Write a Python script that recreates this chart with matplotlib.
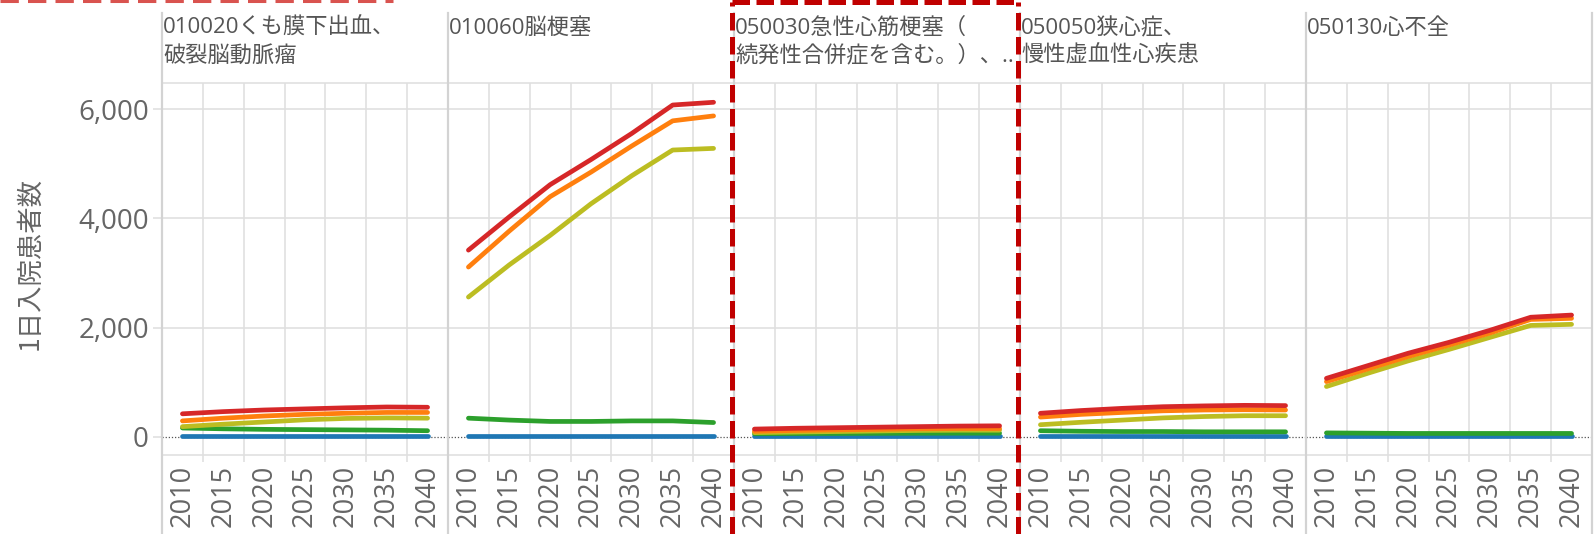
import matplotlib
matplotlib.use('Agg')
import matplotlib.pyplot as plt
from matplotlib.lines import Line2D

plt.rcParams['font.family'] = ['Noto Sans CJK JP', 'DejaVu Sans']

years = [2010, 2015, 2020, 2025, 2030, 2035, 2040]
titles = [['010020くも膜下出血、', '破裂脳動脈瘤'],
          ['010060脳梗塞'],
          ['050030急性心筋梗塞（', '続発性合併症を含む。）、..'],
          ['050050狭心症、', '慢性虚血性心疾患'],
          ['050130心不全']]
yticks = [0, 2000, 4000, 6000]
ylabel = '1日入院患者数'

# 系列ごとの値 (パネル順)
red = [[420, 460, 490, 510, 530, 545, 540],
       [3420, 4030, 4620, 5080, 5560, 6080, 6130],
       [140, 155, 165, 175, 185, 195, 200],
       [430, 480, 520, 550, 565, 575, 570],
       [1070, 1300, 1530, 1730, 1950, 2190, 2230]]
orange = [[290, 340, 380, 410, 430, 445, 445],
          [3110, 3770, 4400, 4850, 5330, 5790, 5880],
          [100, 115, 125, 135, 145, 150, 150],
          [360, 410, 445, 475, 490, 495, 490],
          [1010, 1240, 1470, 1680, 1900, 2150, 2170]]
olive = [[185, 230, 270, 310, 335, 345, 340],
         [2560, 3150, 3690, 4270, 4785, 5255, 5285],
         [75, 85, 95, 105, 115, 120, 120],
         [220, 265, 305, 345, 370, 385, 385],
         [920, 1160, 1390, 1600, 1820, 2040, 2060]]
green = [[160, 145, 135, 130, 125, 120, 110],
         [340, 305, 280, 280, 290, 290, 260],
         [55, 58, 60, 62, 64, 65, 65],
         [110, 100, 95, 95, 90, 90, 90],
         [70, 65, 60, 60, 60, 60, 60]]
blue = [[10, 10, 10, 10, 10, 10, 10],
        [10, 10, 10, 10, 10, 10, 10],
        [10, 10, 10, 10, 10, 10, 10],
        [10, 10, 10, 10, 10, 10, 10],
        [15, 15, 15, 15, 15, 15, 15]]

series = [(blue, '#1f77b4'), (green, '#2ca02c'), (olive, '#bcbd22'),
          (orange, '#ff7f0e'), (red, '#d62728')]

W, H = 1595, 534
fig = plt.figure(figsize=(W / 100, H / 100), dpi=100)

x0 = 162        # 左端 (px)
pw = 286        # パネル幅 (px)
top_px, bot_px = 83.3, 455
grid_c = '#e0e0e0'
sep_c = '#d3d3d3'
txt_c = '#666666'
num_font = ['Open Sans', 'DejaVu Sans']
head_font = ['Open Sans', 'Noto Sans CJK JP']

pos = list(range(len(years)))
for i in range(5):
    ax = fig.add_axes([(x0 + i * pw) / W, (H - bot_px) / H, pw / W, (bot_px - top_px) / H])
    ax.set_xlim(-0.5, 6.5)
    ax.set_ylim(-335, 6478)
    for v in yticks[1:]:
        ax.axhline(v, color=grid_c, lw=1.2, zorder=0)
    for xv in [0.5, 1.5, 2.5, 3.5, 4.5, 5.5]:
        ax.axvline(xv, color=grid_c, lw=1.2, zorder=0)
    ax.axhline(0, color='#555555', lw=0.9, linestyle=(0, (1, 1.5)), zorder=1)
    for data, c in series:
        ax.plot(pos, data[i], color=c, lw=3.4, solid_capstyle='round',
                solid_joinstyle='round', zorder=3)
    for s in ['left', 'right']:
        ax.spines[s].set_visible(False)
    for s in ['top', 'bottom']:
        ax.spines[s].set_color(grid_c)
        ax.spines[s].set_linewidth(1.2)
    ax.set_xticks(pos)
    ax.set_xticklabels([str(y) for y in years], rotation=90, fontsize=19.5,
                       color=txt_c, family=num_font)
    ax.set_xticks([0.5, 1.5, 2.5, 3.5, 4.5, 5.5], minor=True)
    ax.tick_params(axis='x', which='major', length=0, pad=7)
    ax.tick_params(axis='x', which='minor', length=5, color=grid_c, width=1.2)
    ax.set_yticks(yticks)
    if i == 0:
        ax.set_yticklabels([f'{v:,}' for v in yticks], fontsize=20, color=txt_c,
                           family=num_font)
        ax.tick_params(axis='y', length=6.5, color=grid_c, width=1.2, pad=3)
    else:
        ax.set_yticklabels([])
        ax.tick_params(axis='y', length=0)
    for k, line in enumerate(titles[i]):
        fig.text((x0 + i * pw + 1) / W, 1 - (34 + 27.5 * k) / H, line, fontsize=16,
                 color='#555555', va='baseline', ha='left', family=head_font)

fig.text(30 / W, 1 - 263 / H, ylabel, rotation=90, fontsize=19, color=txt_c,
         ha='center', va='center')

# パネル区切り線
for i in range(6):
    xf = (x0 + i * pw) / W
    fig.add_artist(Line2D([xf, xf], [0, 1 - 13 / H], color=sep_c, lw=1.6,
                          transform=fig.transFigure))

# 赤い破線の枠
rc = '#c00000'
xl, xr = 731.7 / W, 1018 / W
yt = 1 - 1.7 / H
for xs, ys in [([xl, xl], [0, yt]), ([xr, xr], [0, yt]), ([xl, xr], [yt, yt])]:
    fig.add_artist(Line2D(xs, ys, color=rc, lw=3.6, dashes=(3.5, 1.3),
                          transform=fig.transFigure))
fig.add_artist(Line2D([0, 393 / W], [1 - 1 / H, 1 - 1 / H], color='#d9534f', lw=2.2,
                      dashes=(6, 3), transform=fig.transFigure))

fig.savefig('out.png', dpi=100)
